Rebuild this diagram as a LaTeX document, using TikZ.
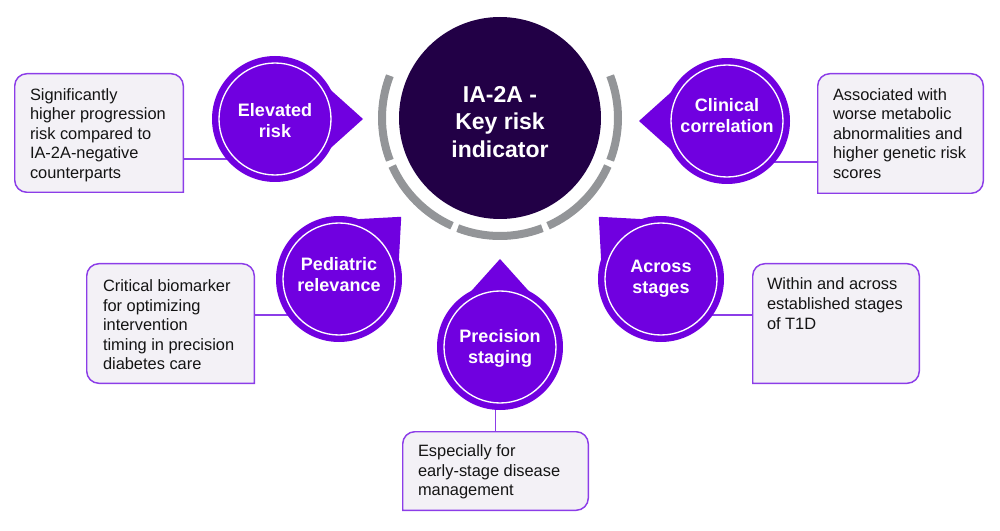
\documentclass[tikz,border=0pt]{standalone}
\usepackage{fontspec}
\setmainfont{Liberation Sans}
\usetikzlibrary{calc,backgrounds}
\definecolor{pur}{HTML}{7000E0}
\definecolor{dark}{HTML}{220046}
\definecolor{ringgray}{HTML}{939598}
\definecolor{boxfill}{HTML}{F3F1F6}
\definecolor{boxline}{HTML}{8C3DE8}
\definecolor{txt}{HTML}{141414}
\begin{document}
\begin{tikzpicture}[x=0.75pt,y=-0.75pt,
  bubble/.style={circle, fill=pur, minimum size=94.5pt, inner sep=0pt,
    path picture={\draw[white, line width=1pt] (path picture bounding box.center) circle[radius=42pt];}},
  lbl/.style={inner sep=0pt, text=white, align=center, font=\bfseries\fontsize{13.5}{15.75}\selectfont},
  boxframe/.style={rectangle, inner sep=0pt},
  boxtext/.style={inner sep=0pt, align=left, text=txt, font=\fontsize{12.3}{14.7}\selectfont},
  frame/.style={fill=boxfill, draw=boxline, line width=1.1pt, rounded corners=9pt, line cap=rect},
  conn/.style={draw=boxline, line width=1.1pt},
  ring/.style={draw=ringgray, line width=6pt},
  tipsty/.style={fill=pur}
]
\useasboundingbox (0,0) rectangle (1000,531);

% central node
\node[circle, fill=dark, minimum size=151.5pt, inner sep=0pt] (cen) at (500,118) {};
\node[inner sep=0pt, text=white, align=center, font=\bfseries\fontsize{17.25}{20.6}\selectfont]
  (cenlbl) at ([yshift=-3pt]cen.center) {IA-2A -\\Key risk\\indicator};

% ring segments
\foreach \a in {0,-45,-90,-135,180}{
  \draw[ring] ($(cen.center)+(\a-21:88.5pt)$) arc[start angle=\a-21, end angle=\a+21, radius=88.5pt];
}

% bubbles
\node[bubble] (elev) at (275,119) {};
\node[bubble] (clin) at (727,121) {};
\node[bubble] (ped)  at (339,279) {};
\node[bubble] (acr)  at (661,279) {};
\node[bubble] (prec) at (500,347) {};
\node[lbl] (elevl) at ([yshift=-1.5pt]elev.center) {Elevated\\risk};
\node[lbl] (clinl) at ([yshift=4pt]clin.center) {Clinical\\correlation};
\node[lbl] (pedl)  at ([yshift=3pt]ped.center) {Pediatric\\relevance};
\node[lbl] (acrl)  at (acr.center) {Across\\stages};
\node[lbl] (precl) at ([yshift=-0.75pt]prec.center) {Precision\\staging};

% box frames (empty named nodes)
\node[boxframe, minimum width=126pt, minimum height=88.5pt] (b1) at (99,133) {};
\node[boxframe, minimum width=123.75pt, minimum height=89.25pt] (b2) at (900.5,133.5) {};
\node[boxframe, minimum width=125.25pt, minimum height=89.25pt] (b3) at (170.5,323.5) {};
\node[boxframe, minimum width=124.5pt, minimum height=89.25pt] (b4) at (836,323.5) {};
\node[boxframe, minimum width=138.75pt, minimum height=58.5pt] (b5) at (495.5,471) {};

% box texts
\node[boxtext, anchor=west] (t1) at ([xshift=11.25pt,yshift=-1.5pt]b1.west) {Significantly\\higher progression\\risk compared to\\IA-2A-negative\\counterparts};
\node[boxtext, anchor=west] (t2) at ([xshift=11.25pt]b2.west) {Associated with\\worse metabolic\\abnormalities and\\higher genetic risk\\scores};
\node[boxtext, anchor=west] (t3) at ([xshift=12pt,yshift=-1pt]b3.west) {Critical biomarker\\for optimizing\\intervention\\timing in precision\\diabetes care};
\node[boxtext, anchor=north west] (t4) at ([xshift=10.5pt,yshift=-10.5pt]b4.north west) {Within and across\\established stages\\of T1D};
\node[boxtext, anchor=west] (t5) at ([xshift=11.25pt,yshift=-0.75pt]b5.west) {Especially for\\early-stage disease\\management};

\coordinate (k1) at (0,159);
\coordinate (k2) at (0,162);
\coordinate (k3) at (0,315);

\begin{scope}[on background layer]
  % connectors
  \draw[conn] (b1.east |- k1) -- (elev.center |- k1);
  \draw[conn] (b2.west |- k2) -- (clin.center |- k2);
  \draw[conn] (b3.east |- k3) -- (ped.center |- k3);
  \draw[conn] (b4.west |- k3) -- (acr.center |- k3);
  \draw[conn] (b5.north) -- (b5.north |- prec.center);
  % pointers
  \fill[tipsty] ($(elev.center)+(0:66pt)$) -- ($(elev.center)+(27:47.25pt)$) -- ($(elev.center)+(-27:47.25pt)$) -- cycle;
  \fill[tipsty] ($(clin.center)+(180:66pt)$) -- ($(clin.center)+(153:47.25pt)$) -- ($(clin.center)+(207:47.25pt)$) -- cycle;
  \fill[tipsty] ($(ped.center)+(45:66pt)$) -- ($(ped.center)+(72:47.25pt)$) -- ($(ped.center)+(18:47.25pt)$) -- cycle;
  \fill[tipsty] ($(acr.center)+(135:66pt)$) -- ($(acr.center)+(162:47.25pt)$) -- ($(acr.center)+(108:47.25pt)$) -- cycle;
  \fill[tipsty] ($(prec.center)+(90:66pt)$) -- ($(prec.center)+(117:47.25pt)$) -- ($(prec.center)+(63:47.25pt)$) -- cycle;
  % frames
  \filldraw[frame] (b1.south east) -- (b1.south west) -- (b1.north west) -- (b1.north east) -- (b1.south east);
  \filldraw[frame] (b2.south west) -- (b2.north west) -- (b2.north east) -- (b2.south east) -- (b2.south west);
  \filldraw[frame] (b3.south east) -- (b3.south west) -- (b3.north west) -- (b3.north east) -- (b3.south east);
  \filldraw[frame] (b4.south west) -- (b4.north west) -- (b4.north east) -- (b4.south east) -- (b4.south west);
  \filldraw[frame] (b5.south west) -- (b5.north west) -- (b5.north east) -- (b5.south east) -- (b5.south west);
\end{scope}
\end{tikzpicture}
\end{document}
